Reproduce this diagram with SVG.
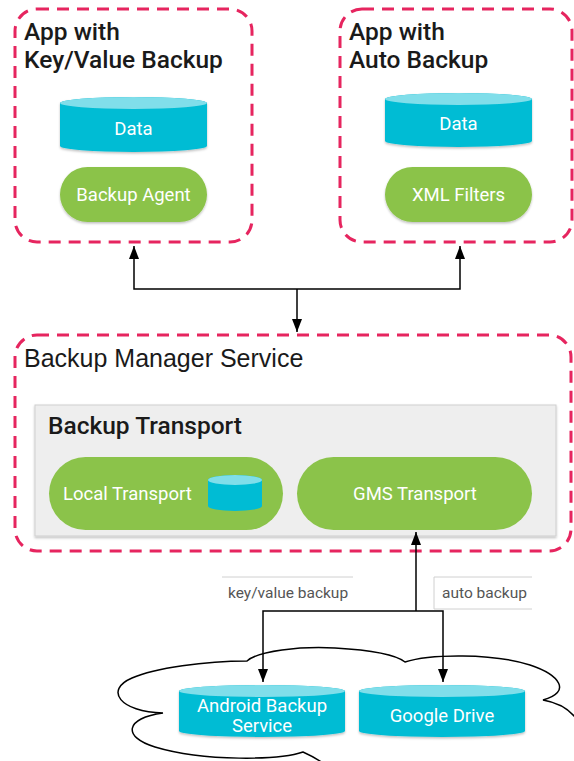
<svg xmlns="http://www.w3.org/2000/svg" width="574" height="761" viewBox="0 0 574 761">
<style>
.dash{fill:none;stroke:#E6255F;stroke-width:3;stroke-dasharray:12 8;}
.title{font-family:Roboto,"Liberation Sans",sans-serif;font-size:24.5px;font-weight:500;fill:#1a1a1a;}
.titleR{font-family:"Liberation Sans",Arial,sans-serif;font-size:25px;font-weight:400;fill:#1a1a1a;}
.lbl{font-family:Roboto,"Liberation Sans",sans-serif;font-size:18.5px;fill:#ffffff;text-anchor:middle;}
.small{font-family:Roboto,"Liberation Sans",sans-serif;font-size:15.5px;fill:#555555;}
.body{fill:#00BCD4;}
.cap{fill:#80DEEA;}
.pill{fill:#8BC34A;}
.conn{fill:none;stroke:#000;stroke-width:1.5;}
.lblbox{fill:none;stroke:#d0d0d0;stroke-width:1;}
</style>
<defs>
<marker id="ah" viewBox="0 0 13 10" refX="13" refY="5" markerWidth="13" markerHeight="10" orient="auto" markerUnits="userSpaceOnUse">
<path d="M0,0 L13,5 L0,10 Z" fill="#000"/>
</marker>
<filter id="sh" x="-10%" y="-10%" width="120%" height="130%">
<feDropShadow dx="0" dy="1.5" stdDeviation="1.2" flood-color="#000" flood-opacity="0.25"/>
</filter>
</defs>

<g id="app-kv">
<rect class="dash" x="15" y="9" width="237" height="233" rx="22"/>
<text class="title" x="24" y="40">App with</text>
<text class="title" x="24" y="68">Key/Value Backup</text>
<g id="data-kv" filter="url(#sh)">
<path class="body" d="M60,103 A73.5,6 0 0 1 207,103 L207,146 A73.5,6 0 0 1 60,146 Z"/>
<ellipse class="cap" cx="133.5" cy="103" rx="73.5" ry="6"/>
</g>
<text class="lbl" x="133.5" y="135">Data</text>
<g id="backup-agent">
<rect class="pill" x="60" y="167" width="147" height="55" rx="27.5" filter="url(#sh)"/>
<text class="lbl" x="133.5" y="200.5">Backup Agent</text>
</g>
</g>

<g id="app-auto">
<rect class="dash" x="340" y="9" width="232" height="233" rx="22"/>
<text class="title" x="349" y="40">App with</text>
<text class="title" x="349" y="68">Auto Backup</text>
<g id="data-auto" filter="url(#sh)">
<path class="body" d="M385,99 A73.5,6 0 0 1 532,99 L532,141 A73.5,6 0 0 1 385,141 Z"/>
<ellipse class="cap" cx="458.5" cy="99" rx="73.5" ry="6"/>
</g>
<text class="lbl" x="458.5" y="130">Data</text>
<g id="xml-filters">
<rect class="pill" x="385" y="167" width="147" height="55" rx="27.5" filter="url(#sh)"/>
<text class="lbl" x="458.5" y="200.5">XML Filters</text>
</g>
</g>

<g id="backup-manager">
<rect class="dash" x="15" y="335" width="556" height="216" rx="22"/>
<text class="titleR" x="24" y="367">Backup Manager Service</text>
</g>

<g id="backup-transport">
<rect x="35" y="405" width="521" height="131" fill="#EEEEEE" stroke="#cfcfcf" stroke-width="1" filter="url(#sh)"/>
<text class="title" x="48" y="434">Backup Transport</text>
<g id="local-transport">
<rect class="pill" x="49" y="457" width="234" height="73" rx="36.5"/>
<text class="lbl" x="63" y="499.5" style="text-anchor:start">Local Transport</text>
<path class="body" d="M208,480 A27,5 0 0 1 262,480 L262,506 A27,5 0 0 1 208,506 Z"/>
<ellipse class="cap" cx="235" cy="480" rx="27" ry="5"/>
</g>
<g id="gms-transport">
<rect class="pill" x="297" y="457" width="235" height="73" rx="36.5"/>
<text class="lbl" x="415" y="499.5">GMS Transport</text>
</g>
</g>

<g id="labels">
<path class="lblbox" d="M222,577 L353,577"/>
<text class="small" x="228" y="598">key/value backup</text>
<path class="lblbox" d="M532,577 L434,577 L434,609 L532,609"/>
<text class="small" x="442" y="598">auto backup</text>
</g>

<g id="cloud">
<path d="M163,713 C120,712 104,690 132,678 C155,668 205,661 247,661 C258,651 300,646 335,648 C370,650 395,654 405,662 C430,654 492,653 530,665 C560,675 572,692 543,700 C578,706 592,735 582,765 L330,768 C322,762 312,756 303,752 C280,760 205,762 155,747 C122,737 125,718 163,713 Z" fill="#ffffff" stroke="#000" stroke-width="1.5"/>
</g>

<g id="android-backup">
<g filter="url(#sh)">
<path class="body" d="M179,691 A83,6 0 0 1 345,691 L345,731 A83,6 0 0 1 179,731 Z"/>
<ellipse class="cap" cx="262" cy="691" rx="83" ry="6"/>
</g>
<text class="lbl" x="262" y="712">Android Backup</text>
<text class="lbl" x="262" y="732">Service</text>
</g>

<g id="google-drive">
<g filter="url(#sh)">
<path class="body" d="M359,691 A83,6 0 0 1 525,691 L525,731 A83,6 0 0 1 359,731 Z"/>
<ellipse class="cap" cx="442" cy="691" rx="83" ry="6"/>
</g>
<text class="lbl" x="442" y="722">Google Drive</text>
</g>

<g id="connectors">
<path class="conn" d="M297,289 L297,332" marker-end="url(#ah)"/>
<path class="conn" d="M297,289 L134,289 L134,246" marker-end="url(#ah)"/>
<path class="conn" d="M297,289 L460,289 L460,246" marker-end="url(#ah)"/>
<path class="conn" d="M416,611 L416,532" marker-end="url(#ah)"/>
<path class="conn" d="M416,611 L263,611 L263,682" marker-end="url(#ah)"/>
<path class="conn" d="M416,611 L443,611 L443,682" marker-end="url(#ah)"/>
</g>
</svg>
